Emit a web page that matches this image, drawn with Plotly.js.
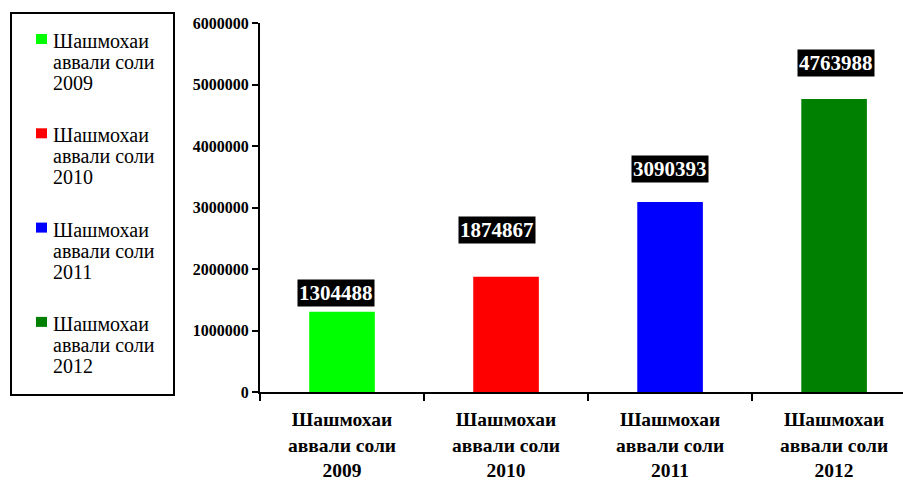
<!DOCTYPE html>
<html>
<head>
<meta charset="utf-8">
<script src="https://cdn.plot.ly/plotly-3.0.1.min.js"></script>
<style>html,body{margin:0;padding:0;background:#fff;}#chart{width:903px;height:484px;}</style>
</head>
<body>
<div id="chart"></div>
<script>
var categories = ["Шашмохаи аввали соли 2009", "Шашмохаи аввали соли 2010", "Шашмохаи аввали соли 2011", "Шашмохаи аввали соли 2012"];
var values = [1304488, 1874867, 3090393, 4763988];
var colors = ["#00ff00", "#ff0000", "#0000ff", "#008000"];
var yTicks = [0, 1000000, 2000000, 3000000, 4000000, 5000000, 6000000];

var serif = "'Liberation Serif'";
function brk(s) { return s.replace("Шашмохаи ", "Шашмохаи<br>").replace("соли ", "соли<br>"); }

var W = 903, H = 484, ML = 260, MR = 0, MT = 23, MB = 92;
var PW = W - ML - MR, PH = H - MT - MB;
function px(x) { return (x - ML) / PW; }
function py(y) { return (H - MB - y) / PH; }

var traces = categories.map(function (c, i) {
  return {
    type: "bar",
    x: [c],
    y: [values[i]],
    name: c,
    marker: { color: colors[i] },
    width: 0.4,
    hoverinfo: "x+y"
  };
});

var labelShift = [[-6, 19], [-9, 47], [0, 33], [2, 36]];
var annotations = categories.map(function (c, i) {
  return {
    x: c, y: values[i], xref: "x", yref: "y",
    text: String(values[i]),
    showarrow: false,
    yanchor: "middle",
    xshift: labelShift[i][0],
    yshift: labelShift[i][1],
    bgcolor: "#000000",
    borderpad: 1,
    font: { family: serif, size: 21, color: "#ffffff", weight: 700 }
  };
});

var shapes = [{
  type: "rect", xref: "paper", yref: "paper",
  x0: px(11), x1: px(174), y0: py(395), y1: py(13),
  line: { color: "#000000", width: 2 }, fillcolor: "rgba(0,0,0,0)", layer: "above"
}];
var entryTop = 34, entryStep = 94.3, lineStep = 21;
categories.forEach(function (c, i) {
  var top = entryTop + i * entryStep;
  shapes.push({
    type: "rect", xref: "paper", yref: "paper",
    x0: px(36), x1: px(47), y0: py(top + 10), y1: py(top),
    line: { width: 0 }, fillcolor: colors[i], layer: "above"
  });
  brk(c).split("<br>").forEach(function (line, j) {
    annotations.push({
      xref: "paper", yref: "paper",
      x: px(51), y: py(top + 7 + j * lineStep),
      xanchor: "left", yanchor: "middle",
      text: line, showarrow: false,
      font: { family: serif, size: 20, color: "#000000" }
    });
  });
});

var layout = {
  width: W, height: H,
  margin: { l: ML, r: MR, t: MT, b: MB },
  paper_bgcolor: "#ffffff", plot_bgcolor: "#ffffff",
  barmode: "overlay",
  showlegend: false,
  font: { family: serif },
  xaxis: {
    type: "category",
    range: [-0.5, 3.42],
    tickvals: categories,
    ticktext: categories.map(brk),
    tickson: "boundaries",
    ticks: "outside", ticklen: 7, tickwidth: 2, tickcolor: "#000000",
    ticklabelstandoff: 9,
    showline: true, linecolor: "#000000", linewidth: 2,
    showgrid: false, zeroline: false,
    tickfont: { family: serif, size: 19.5, color: "#000000", weight: 700 },
    fixedrange: true
  },
  yaxis: {
    range: [0, 6000000],
    tickvals: yTicks,
    ticktext: yTicks.map(String),
    ticks: "outside", ticklen: 6, tickwidth: 2, tickcolor: "#000000",
    showline: true, linecolor: "#000000", linewidth: 2,
    showgrid: false, zeroline: false,
    tickfont: { family: serif, size: 16, color: "#000000", weight: 700 },
    fixedrange: true
  },
  shapes: shapes,
  annotations: annotations
};

Plotly.newPlot("chart", traces, layout, { displayModeBar: false, staticPlot: true });
</script>
</body>
</html>
